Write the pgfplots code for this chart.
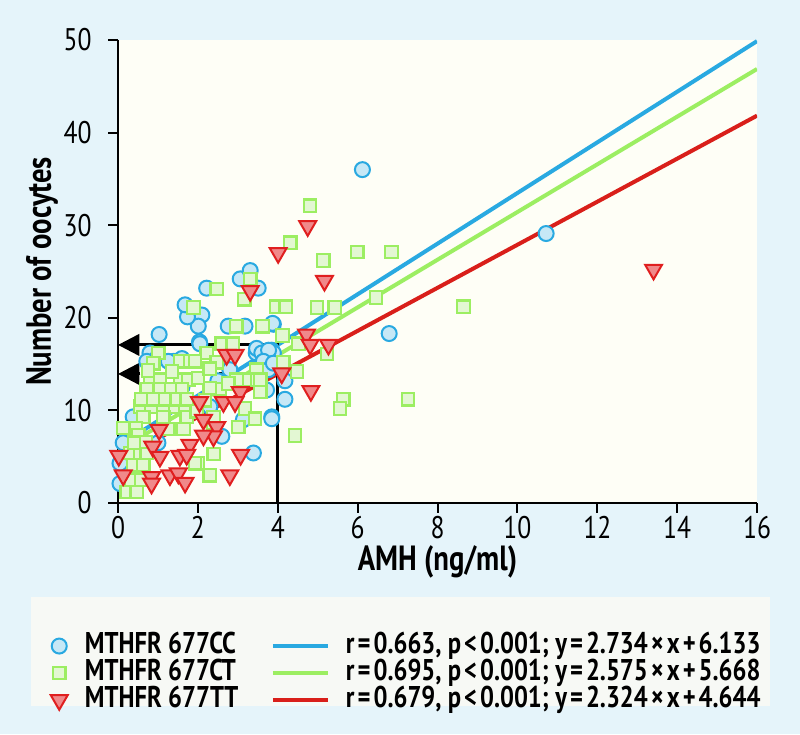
\documentclass[border=0pt]{standalone}
\usepackage{fontspec}
\setmainfont{PT Sans}[FakeStretch=0.82]
\usepackage{pgfplots}
\pgfplotsset{compat=1.18}
\usetikzlibrary{arrows.meta}

\definecolor{bgblue}{HTML}{E5F4FA}
\definecolor{plotbg}{HTML}{FEFEF6}
\definecolor{legbg}{HTML}{F7F9F5}
\definecolor{cblue}{HTML}{29A9E1}
\definecolor{cbluefill}{HTML}{C6E8F6}
\definecolor{cgreen}{HTML}{9CEE62}
\definecolor{cgreenfill}{HTML}{E3F7D3}
\definecolor{cred}{HTML}{E01F1F}
\definecolor{credfill}{HTML}{F0898A}
\definecolor{credline}{HTML}{D91F1A}

\newcommand{\op}[1]{\kern0.1em#1\kern0.1em}

\pgfplotsset{
  cc/.style={only marks, mark=*, mark size=3pt,
    mark options={draw=cblue, fill=cbluefill, line width=0.8pt}},
  ct/.style={only marks, mark=square*, mark size=2.5pt,
    mark options={draw=cgreen, fill=cgreenfill, line width=0.9pt}},
  tt/.style={only marks, mark=triangle*, mark size=3.9pt,
    mark options={draw=cred, fill=credfill, line width=0.8pt, rotate=180}},
  markleg/.style={legend image code/.code={
    \path (-5pt,0pt) (5pt,0pt);
    \draw[##1] plot coordinates {(0pt,0pt)};}},
  lineleg/.style={legend image code/.code={
    \path (0pt,0pt) (22pt,0pt);
    \draw[##1] (0pt,0pt) -- (22pt,0pt);}},
}

\begin{document}
\begin{tikzpicture}
\fill[bgblue] (0,0) rectangle (320pt,293.6pt);
\useasboundingbox (0,0) rectangle (320pt,293.6pt);
\fill[legbg] (12.2pt,11.2pt) rectangle (308pt,54.8pt);
\begin{axis}[
  at={(47.2pt,92.4pt)}, anchor=south west,
  scale only axis, width=255.6pt, height=185.2pt,
  xmin=0, xmax=16, ymin=0, ymax=50,
  xtick={0,2,...,16}, ytick={0,10,...,50},
  axis x line*=bottom, axis y line*=left,
  axis line style={-, line width=0.8pt, black},
  tick style={line width=0.8pt, black},
  tick align=outside, major tick length=4pt,
  axis background/.style={fill=plotbg},
  /pgf/number format/assume math mode=true,
  ticklabel style={font=\fontsize{12.5}{14}\selectfont},
  xticklabel style={inner sep=1pt},
  yticklabel style={xshift=-3pt},
  label style={font=\fontsize{14}{16}\selectfont\bfseries},
  xlabel={AMH (ng/ml)},
  ylabel={Number of oocytes},
  xlabel style={at={(axis description cs:0.5,-0.128)}, anchor=center, inner sep=1pt},
  ylabel style={at={(axis description cs:-0.119,0.5)}, anchor=center},
  legend columns=2,
  legend cell align=left,
  legend style={at={(axis description cs:-0.1123,-0.282)}, anchor=north west,
    draw=none, fill=none, inner sep=0pt, outer sep=0pt, row sep=0.8pt,
    font=\fontsize{12}{14}\selectfont\bfseries,
    nodes={inner sep=0pt, text height=8pt, text depth=2pt}},
]
% regression lines
\addplot[cblue, line width=1.6pt, forget plot] coordinates {(0,6.133) (16,49.877)};
\addplot[cgreen, line width=1.6pt, forget plot] coordinates {(0,5.668) (16,46.868)};
\addplot[credline, line width=1.6pt, forget plot] coordinates {(0,4.644) (16,41.828)};

% MTHFR 677CC
\addplot[cc, forget plot] coordinates {
(6.12,36.0) (10.72,29.1) (6.79,18.3) (3.89,19.3) (3.85,16.5) (4.18,13.2)
(4.18,11.2) (3.85,9.3) (3.06,24.2) (3.31,25.1) (3.51,23.2) (2.22,23.2)
(1.74,21.1) (2.10,20.3) (2.01,19.1) (1.74,20.1) (1.68,21.4) (2.76,19.1)
(3.18,19.1) (3.87,19.4) (1.03,18.2) (2.04,17.4) (0.80,16.2) (0.97,15.6)
(3.46,16.2) (3.68,15.3) (3.89,16.2) (1.39,15.3) (1.60,15.6) (0.72,15.3)
(1.26,15.3) (2.80,14.4) (2.30,10.4) (3.14,9.0) (3.85,9.1) (2.60,7.2)
(3.39,5.4) (0.05,4.3) (0.05,2.1) (3.47,16.7) (3.60,16.2) (3.77,16.5)
(3.64,15.3) (3.77,14.4) (3.89,15.1) (3.72,12.2) (2.05,17.2)
(0.38,9.3) (0.13,6.5) (1.20,11.5) (1.60,12.5) (2.50,13.2) (1.00,6.5) (0.40,3.3)
};

% MTHFR 677CT
\addplot[ct, forget plot] coordinates {
(4.81,32.1) (4.31,28.1) (5.14,26.2) (5.99,27.1) (6.85,27.1) (3.97,21.2)
(4.20,21.2) (4.98,21.1) (5.43,21.1) (6.46,22.2) (8.65,21.2) (4.12,18.1)
(4.52,17.2) (5.23,16.1) (4.14,15.2) (4.48,14.2) (5.64,11.2) (5.56,10.2)
(7.26,11.2) (4.43,7.3) (3.31,24.2) (3.16,22.0) (2.47,23.1) (1.89,21.1)
(2.96,19.1) (3.62,19.1) (2.60,17.2) (2.87,17.2) (1.01,16.2) (0.88,15.1)
(1.55,15.3) (1.80,15.3) (2.22,16.2) (2.47,15.2) (3.47,14.4) (3.56,12.0)
(3.18,10.2) (3.43,9.1) (2.39,8.6) (3.01,8.2) (1.26,8.0) (1.64,8.0)
(2.40,5.3) (1.99,4.3) (2.30,3.0) (0.22,1.2) (0.47,1.2)
(0.55,10.4) (0.84,10.4) (1.13,10.4) (1.43,10.4) (1.68,10.4)
(0.63,9.3) (1.13,9.3) (1.72,9.3)
(0.13,8.1) (0.45,8.1) (0.51,7.3)
(0.30,5.4) (0.55,5.4) (0.72,5.4)
(0.38,4.1) (0.63,4.1) (1.93,4.3)
(0.34,2.5) (0.59,2.5)
(0.80,13.3) (1.05,13.3) (1.55,13.3) (1.76,13.3)
(0.72,12.3) (1.05,12.3) (1.34,12.3) (1.60,12.3)
(0.59,11.2) (0.88,11.2) (1.18,11.2) (1.47,11.2) (1.72,11.2)
(1.93,15.3) (3.39,13.3) (3.56,13.3) (3.18,13.3) (2.97,13.3)
(2.55,12.3) (2.76,12.9) (2.30,12.4) (2.18,11.1) (1.97,9.9) (2.39,9.3)
(2.00,13.5) (2.30,14.5) (0.40,6.5) (0.70,6.6) (0.75,14.3) (1.35,14.2)
};

% MTHFR 677TT
\addplot[tt, forget plot] coordinates {
(13.41,25.2) (4.75,29.9) (4.01,27.0) (5.17,24.0) (4.72,18.2) (4.81,17.1)
(5.27,17.1) (4.10,14.0) (4.83,12.1) (3.31,22.9) (2.72,16.0) (2.93,16.0)
(3.06,12.0) (2.64,10.9) (2.93,10.9) (2.04,10.9) (2.14,9.0) (2.47,8.2)
(2.39,7.2) (2.14,7.3) (1.03,7.9) (0.87,6.1) (1.05,5.0) (1.80,6.3)
(1.55,5.1) (1.72,5.2) (3.07,5.2) (2.80,3.0) (0.13,3.0) (0.84,2.8)
(0.84,2.1) (1.30,3.0) (1.51,3.2) (1.68,2.2) (0.02,5.1)
};

% reading guides at AMH = 4
\draw[line width=1.2pt, line join=miter, -{Triangle[length=8.5pt,width=8.5pt]}]
  (axis cs:4,0) -- (axis cs:4,17.07) -- (axis cs:0,17.07);
\draw[line width=1.2pt, dash pattern=on 1.4pt off 0.8pt, -{Triangle[length=8.5pt,width=8.5pt]}]
  (axis cs:4,13.94) -- (axis cs:0,13.94);

% legend
\addlegendimage{cc, markleg}
\addlegendimage{cblue, line width=1.6pt, lineleg}
\addlegendimage{ct, markleg}
\addlegendimage{cgreen, line width=1.6pt, lineleg}
\addlegendimage{tt, markleg}
\addlegendimage{credline, line width=1.6pt, lineleg}
\legend{
  {\makebox[79.5pt][l]{\hspace*{5.1pt}MTHFR 677CC}},
  {\hspace*{6.4pt}r\op{=}0.663, p\op{<}0.001; y\op{=}2.734\op{×}x\op{+}6.133},
  {\makebox[79.5pt][l]{\hspace*{5.1pt}MTHFR 677CT}},
  {\hspace*{6.4pt}r\op{=}0.695, p\op{<}0.001; y\op{=}2.575\op{×}x\op{+}5.668},
  {\makebox[79.5pt][l]{\hspace*{5.1pt}MTHFR 677TT}},
  {\hspace*{6.4pt}r\op{=}0.679, p\op{<}0.001; y\op{=}2.324\op{×}x\op{+}4.644}
}
\end{axis}
\end{tikzpicture}
\end{document}
